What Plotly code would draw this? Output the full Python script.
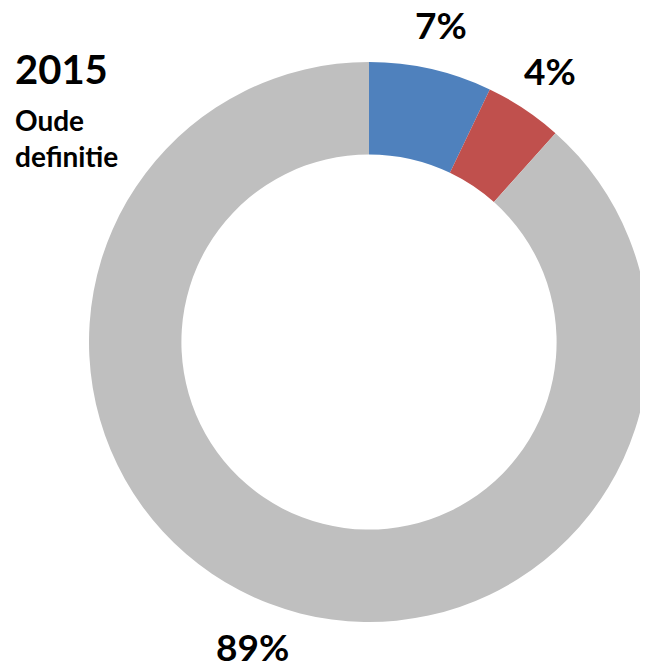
import math
import plotly.graph_objects as go

# Data
categories = ["A", "B", "Overig"]
values = [7.1, 4.5, 88.4]
labels_text = ["7%", "4%", "89%"]
colors = ["#4F81BD", "#C0504D", "#BFBFBF"]
title_year = "2015"
subtitle = "Oude<br>definitie"

W, H = 648, 666
cx, cy, R = 361, 334, 280  # pixel center / radius (layout, figure coords)
label_r = 326

fig = go.Figure(go.Pie(
    labels=categories, values=values, sort=False, direction="clockwise",
    rotation=0, hole=0.67, textinfo="none", hoverinfo="label+percent",
    marker=dict(colors=colors, line=dict(width=0)),
    domain=dict(x=[(cx - R) / W, min(1, (cx + R) / W)],
                y=[(H - cy - R) / H, (H - cy + R) / H]),
    showlegend=False,
))

annotations = []
total = sum(values)
cum = 0
for v, t in zip(values, labels_text):
    mid = (cum + v / 2) / total * 2 * math.pi
    cum += v
    px = cx + label_r * math.sin(mid)
    py = cy - label_r * math.cos(mid)
    annotations.append(dict(x=px / W, y=1 - py / H, xref="paper", yref="paper",
                            text=f"<b>{t}</b>", showarrow=False,
                            xanchor="center", yanchor="middle", borderpad=0,
                            font=dict(family="Lato", size=37, color="#000")))

annotations.append(dict(x=5 / W, y=1 - 61 / H, xref="paper", yref="paper",
                        text=f"<b>{title_year}</b>", showarrow=False,
                        xanchor="left", yanchor="middle",
                        font=dict(family="Lato", size=40, color="#000")))
annotations.append(dict(x=5 / W, y=1 - 130 / H, xref="paper", yref="paper",
                        text=f"<b>{subtitle}</b>", showarrow=False, align="left",
                        xanchor="left", yanchor="middle",
                        font=dict(family="Lato", size=28, color="#000")))

fig.update_layout(width=W, height=H, margin=dict(l=0, r=0, t=0, b=0),
                  paper_bgcolor="white", plot_bgcolor="white",
                  annotations=annotations)
fig.write_html("out.html")
